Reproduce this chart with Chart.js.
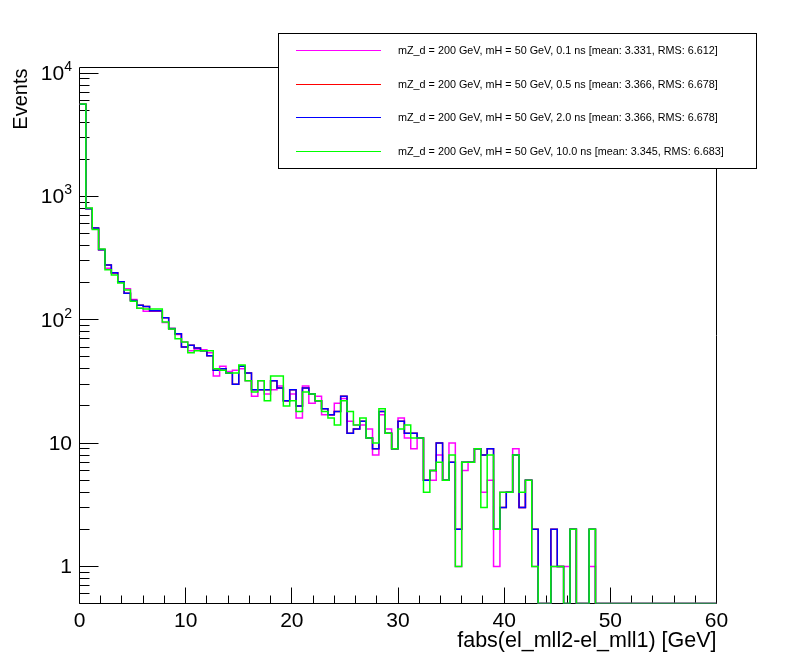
<!DOCTYPE html>
<html>
<head>
<meta charset="utf-8">
<script src="https://cdn.jsdelivr.net/npm/chart.js@4/dist/chart.umd.min.js"></script>
<style>
  html, body { margin: 0; padding: 0; background: #fff; }
</style>
</head>
<body>
<canvas id="result-chart" width="796" height="672"></canvas>
<script>
// histogram binning: 100 bins of 0.6 GeV from 0 to 60
const binWidth = 0.6;
const xMin = 0;
const xMax = 60;
const yMin = 0.5;
const yMax = 11100;

const xTickLabels = [0, 10, 20, 30, 40, 50, 60];
const yTickValues = [1, 10, 100, 1000, 10000];
const yTickLabels = [["1", ""], ["10", ""], ["10", "2"], ["10", "3"], ["10", "4"]];

const xTitle = "fabs(el_mll2-el_mll1) [GeV]";
const yTitle = "Events";

// events per bin
const magenta01 = [
  5600, 800, 545, 372, 261, 238, 203, 178, 146, 124,
  117, 117, 117, 95, 84, 76, 66, 56, 58, 57,
  54, 35, 42, 38, 39, 40, 32, 24, 32, 25,
  27, 29, 22, 25, 16, 29, 21, 24, 17, 17,
  21, 23, 15, 14, 14, 13, 8, 17, 13, 9,
  16, 11, 9, 11, 5, 5, 8, 5, 10, 1,
  6, 7, 9, 4, 5, 1, 4, 4, 9, 3,
  5, 1, 0, 0, 1, 1, 1, 2, 0, 0,
  1, 0, 0, 0, 0, 0, 0, 0, 0, 0,
  0, 0, 0, 0, 0, 0, 0, 0, 0, 0
];
const blue20 = [
  5600, 795, 555, 370, 278, 240, 203, 164, 143, 131,
  128, 118, 118, 104, 85, 77, 60, 62, 59, 56,
  51, 39, 40, 37, 30, 42, 37, 27, 27, 27,
  32, 28, 22, 27, 20, 28, 25, 22, 19, 17,
  18, 24, 12, 13, 15, 11, 9, 18, 12, 9,
  15, 12, 12, 11, 5, 6, 10, 5, 7, 2,
  7, 7, 9, 8, 9, 2, 3, 4, 8, 3,
  5, 2, 0, 0, 2, 1, 0, 2, 0, 0,
  2, 0, 0, 0, 0, 0, 0, 0, 0, 0,
  0, 0, 0, 0, 0, 0, 0, 0, 0, 0
];
// 0.5 ns has the same mean and RMS as 2.0 ns and sits exactly under the blue line
const red05 = blue20;
const green100 = [
  5620, 807, 540, 375, 254, 231, 199, 174, 141, 124,
  122, 122, 122, 96, 84, 70, 66, 54, 56, 56,
  56, 40, 39, 37, 37, 43, 32, 26, 32, 22,
  35, 35, 20, 22, 18, 26, 25, 22, 18, 16,
  14, 22, 18, 14, 16, 11, 10, 19, 12, 9,
  13, 14, 11, 11, 4, 6, 7, 5, 8, 1,
  7, 7, 9, 3, 8, 2, 4, 4, 8, 4,
  5, 1, 0, 0, 1, 1, 0, 2, 0, 0,
  2, 0, 0, 0, 0, 0, 0, 0, 0, 0,
  0, 0, 0, 0, 0, 0, 0, 0, 0, 0
];

const seriesNames = [
  "mZ_d = 200 GeV, mH = 50 GeV, 0.1 ns [mean: 3.331, RMS: 6.612]",
  "mZ_d = 200 GeV, mH = 50 GeV, 0.5 ns [mean: 3.366, RMS: 6.678]",
  "mZ_d = 200 GeV, mH = 50 GeV, 2.0 ns [mean: 3.366, RMS: 6.678]",
  "mZ_d = 200 GeV, mH = 50 GeV, 10.0 ns [mean: 3.345, RMS: 6.683]"
];
const seriesColors = ["#ff00ff", "#ff0000", "#0000ff", "#00ff00"];
const seriesValues = [magenta01, red05, blue20, green100];

const FONT = '"Liberation Sans", Arial, Helvetica, sans-serif';

// turn bin contents into step points at the low bin edges
// (empty bins sit on the bottom of the frame, as ROOT draws them)
const to_steps = (values) => {
  const pts = values.map((v, i) => ({ x: xMin + i * binWidth, y: v > 0 ? v : yMin }));
  pts.push({ x: xMax, y: pts[pts.length - 1].y });
  return pts;
};

const get_datasets = () => {
  return seriesValues.map((values, i) => ({
    label: seriesNames[i],
    data: to_steps(values),
    borderColor: seriesColors[i],
    backgroundColor: seriesColors[i],
    borderWidth: 1.5,
    pointRadius: 0,
    // horizontal to the next edge first, then the vertical step
    stepped: "before",
    fill: false,
    // last series on top, like the histograms drawn with "same"
    order: seriesValues.length - i,
  }));
};

const half = (v) => Math.round(v - 0.5) + 0.5;

const frame_plugin = {
  id: "rootFrame",
  beforeDatasetsDraw(chart) {
    const { ctx, chartArea: a, scales } = chart;
    const xs = scales.x, ys = scales.y;
    ctx.save();
    ctx.strokeStyle = "#000";
    ctx.lineWidth = 1;
    ctx.beginPath();
    ctx.rect(half(a.left), half(a.top), Math.round(a.right - a.left), Math.round(a.bottom - a.top));
    // x ticks: major every 10, minor every 2
    for (let v = xMin; v <= xMax; v += 2) {
      const px = half(xs.getPixelForValue(v));
      const len = v % 10 === 0 ? 16 : 8;
      ctx.moveTo(px, half(a.bottom));
      ctx.lineTo(px, half(a.bottom) - len);
    }
    // y ticks: decades and 2..9 in between
    for (let e = -1; e <= 4; e++) {
      for (let k = 1; k <= 9; k++) {
        const v = k * Math.pow(10, e);
        if (v < yMin || v > yMax) continue;
        const py = half(ys.getPixelForValue(v));
        const len = k === 1 ? 19 : 10;
        ctx.moveTo(half(a.left), py);
        ctx.lineTo(half(a.left) + len, py);
      }
    }
    ctx.stroke();
    ctx.restore();
  },
  afterDraw(chart) {
    const { ctx, chartArea: a, scales } = chart;
    const xs = scales.x, ys = scales.y;
    ctx.save();
    ctx.fillStyle = "#000";
    // x tick labels
    ctx.font = `21px ${FONT}`;
    ctx.textAlign = "center";
    ctx.textBaseline = "alphabetic";
    xTickLabels.forEach((v) => {
      ctx.fillText(String(v), xs.getPixelForValue(v), 627);
    });
    // y tick labels with exponents
    yTickValues.forEach((v, i) => {
      const [base, exp] = yTickLabels[i];
      const py = ys.getPixelForValue(v);
      ctx.textBaseline = "middle";
      ctx.font = `14px ${FONT}`;
      const ew = exp ? ctx.measureText(exp).width : 0;
      const right = 72;
      if (exp) {
        ctx.textAlign = "right";
        ctx.fillText(exp, right, py - 6);
      }
      ctx.font = `21px ${FONT}`;
      ctx.textAlign = "right";
      ctx.fillText(base, right - ew, py + 1);
    });
    // axis titles
    ctx.font = `21.5px ${FONT}`;
    ctx.textAlign = "right";
    ctx.textBaseline = "alphabetic";
    ctx.fillText(xTitle, a.right, 647);
    ctx.save();
    ctx.font = `20px ${FONT}`;
    ctx.translate(27, a.top + 1);
    ctx.rotate(-Math.PI / 2);
    ctx.textAlign = "right";
    ctx.fillText(yTitle, 0, 0);
    ctx.restore();
    // legend box
    const lx = 278.5, ly = 33.5, lw = 478, lh = 135;
    ctx.fillStyle = "#fff";
    ctx.fillRect(lx, ly, lw, lh);
    ctx.strokeStyle = "#000";
    ctx.lineWidth = 1;
    ctx.strokeRect(lx, ly, lw, lh);
    const rowY = [50, 84, 117, 151];
    ctx.font = `10.8px ${FONT}`;
    ctx.textAlign = "left";
    ctx.textBaseline = "middle";
    seriesNames.forEach((name, i) => {
      ctx.strokeStyle = seriesColors[i];
      ctx.beginPath();
      ctx.moveTo(296, rowY[i] + 0.5);
      ctx.lineTo(381, rowY[i] + 0.5);
      ctx.stroke();
      ctx.fillStyle = "#000";
      ctx.fillText(name, 398, rowY[i] + 1);
    });
    ctx.restore();
  },
};

const get_chart_config = () => {
  return {
    type: "line",
    data: { datasets: get_datasets() },
    options: {
      responsive: false,
      animation: false,
      layout: { padding: { left: 79.5, right: 79.5, top: 67.5, bottom: 68.5 } },
      plugins: { legend: { display: false }, tooltip: { enabled: false } },
      scales: {
        x: { type: "linear", min: xMin, max: xMax, display: false },
        y: { type: "logarithmic", min: yMin, max: yMax, bounds: "data", display: false },
      },
    },
    plugins: [frame_plugin],
  };
};

const resultChart = new Chart(document.getElementById("result-chart"), get_chart_config());
</script>
</body>
</html>
